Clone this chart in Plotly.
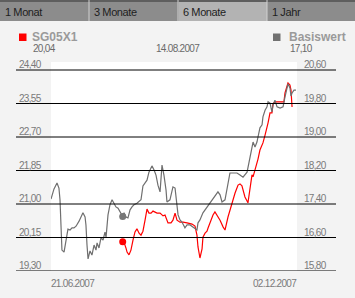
import plotly.graph_objects as go

# ---------------- data ----------------
# x = days since 21.06.2007
basis_day = [0, 2.0, 4.0, 5.3, 6.0, 6.7, 7.3, 8.7, 10.0, 11.3, 12.7, 14.0, 15.3, 16.7, 18.7, 20.0,
             21.3, 22.7, 23.3, 24.0, 24.7, 26.0, 27.3, 28.7, 30.0, 30.7, 32.0, 33.3, 34.7, 36.0,
             36.7, 38.0, 39.3, 40.7, 42.0, 43.3, 44.7, 46.0, 47.8, 48.7, 50.0, 51.3, 52.7, 54.0,
             55.3, 57.3, 60.0, 61.3, 62.7, 64.0, 65.3, 67.3, 68.7, 70.0, 71.3, 72.7, 74.0, 75.3,
             76.7, 77.3, 79.3, 81.3, 82.7, 84.0, 84.7, 86.0, 87.3, 89.3, 90.7, 92.7, 94.7, 97.3,
             98.0, 99.3, 101.3, 104.0, 106.0, 108.0, 110.7, 111.3, 112.7, 114.0, 116.0, 117.3,
             119.3, 121.3, 124.0, 126.0, 128.0, 130.7, 131.3, 132.7, 134.0, 134.7, 136.0, 137.3,
             138.0, 139.3, 140.7, 141.3, 142.7, 144.0, 144.7, 146.0, 147.3, 148.0, 149.3, 150.7,
             152.7, 154.7, 156.0, 157.3, 158.0, 159.3, 160.0, 160.7, 162.0, 163.3]
basis_val = [17.52, 17.76, 17.90, 17.78, 17.50, 16.78, 16.30, 16.25, 16.59, 16.80, 16.78, 16.83,
             16.83, 16.87, 16.99, 17.11, 17.19, 17.09, 16.90, 16.42, 16.09, 16.28, 16.18, 16.42,
             16.30, 16.47, 16.35, 16.59, 16.54, 16.73, 16.61, 17.14, 17.38, 17.50, 17.40, 17.33,
             17.30, 17.21, 17.10, 17.19, 17.09, 17.07, 17.26, 17.33, 17.38, 17.42, 17.50, 17.83,
             17.90, 17.97, 18.16, 18.31, 18.21, 18.09, 17.85, 17.69, 18.33, 18.09, 17.73, 17.45,
             17.50, 17.81, 17.78, 17.30, 17.14, 17.02, 16.97, 16.83, 16.90, 16.90, 16.85, 16.78,
             16.95, 17.02, 17.19, 17.33, 17.42, 17.54, 17.66, 17.69, 17.62, 17.45, 17.50, 17.73,
             18.14, 18.14, 18.14, 18.09, 18.04, 18.16, 18.26, 18.50, 18.69, 18.88, 18.76, 18.88,
             19.00, 19.22, 19.29, 19.48, 19.64, 19.72, 19.84, 19.81, 19.60, 19.76, 19.88, 19.72,
             19.69, 19.72, 19.96, 20.17, 20.27, 20.17, 19.98, 20.05, 20.12, 20.12]

sg_day = [47.8, 49.3, 50.0, 50.7, 52.0, 53.3, 54.7, 56.0, 57.3, 58.7, 60.0, 61.3, 62.7, 64.0,
          65.3, 66.7, 68.0, 69.3, 70.7, 72.7, 74.7, 76.0, 78.0, 80.0, 81.3, 82.7, 84.0, 86.0,
          88.0, 90.7, 94.0, 96.0, 97.3, 98.0, 99.3, 100.7, 101.3, 102.7, 104.0, 104.7, 106.0,
          108.0, 109.3, 111.3, 112.7, 114.7, 116.0, 118.0, 120.7, 122.7, 124.7, 126.0, 127.3,
          129.3, 131.3, 132.7, 134.0, 134.7, 136.0, 138.0, 139.3, 140.7, 141.3, 142.7, 144.0,
          144.7, 146.0, 147.3, 148.0, 149.3, 151.3, 154.0, 155.3, 156.0, 157.3, 158.0, 159.3,
          160.0, 160.7]
sg_val = [20.04, 19.96, 19.88, 19.78, 19.71, 19.83, 20.09, 20.29, 20.37, 20.26, 20.21, 20.31,
          20.59, 20.87, 20.77, 20.77, 20.82, 20.80, 20.77, 20.77, 20.70, 20.72, 20.52, 20.52,
          20.59, 20.77, 20.59, 20.54, 20.54, 20.52, 20.49, 20.44, 20.21, 19.91, 19.63, 19.86,
          20.16, 20.26, 20.31, 20.39, 20.54, 20.72, 20.80, 20.67, 20.59, 20.42, 20.34, 20.67,
          21.03, 21.28, 21.48, 21.51, 21.46, 21.18, 21.03, 21.36, 21.74, 21.69, 21.86, 22.14,
          22.37, 22.50, 22.55, 22.75, 22.93, 23.06, 23.31, 23.31, 23.54, 23.59, 23.59, 23.59,
          23.59, 23.82, 23.97, 24.07, 24.02, 23.89, 23.46]

left_ticks = [19.30, 20.15, 21.00, 21.85, 22.70, 23.55, 24.40]
right_ticks = [15.80, 16.60, 17.40, 18.20, 19.00, 19.80, 20.60]
tabs = ["1 Monat", "3 Monate", "6 Monate", "1 Jahr"]
selected_tab = "6 Monate"
series_names = ["SG05X1", "Basiswert"]
header_date = "14.08.2007"
date_labels = ["21.06.2007", "02.12.2007"]

# ---------------- layout helpers ----------------
W, H = 355, 298
L, R, T, B = 51, 297, 62, 271
def px(x):
    return (x - L) / (R - L)
def py(y):
    return (B - y) / (B - T)

RED = "#ff0000"
GRAY = "#6f6f6f"
LABEL = "#7a7a7a"
FONT = "Liberation Sans, Arial, sans-serif"

def narrow(t, ls=-0.7):
    return f'<span style="letter-spacing:{ls}px">{t}</span>'

# y ranges: bottom tick at B, top tick at y=70
pxu_l = (B - 70) / (left_ticks[-1] - left_ticks[0])
pxu_r = (B - 70) / (right_ticks[-1] - right_ticks[0])
yl_range = [left_ticks[0], left_ticks[-1] + (70 - T) / pxu_l]
yr_range = [right_ticks[0], right_ticks[-1] + (70 - T) / pxu_r]

def fmt(v):
    return f"{v:.2f}".replace(".", ",")

fig = go.Figure()
fig.add_trace(go.Scatter(x=basis_day, y=basis_val, yaxis="y2", mode="lines",
                         line=dict(color=GRAY, width=1.2), hoverinfo="skip"))
fig.add_trace(go.Scatter(x=sg_day, y=sg_val, yaxis="y", mode="lines",
                         line=dict(color=RED, width=1.2), hoverinfo="skip"))
# start markers
bi = min(range(len(basis_day)), key=lambda i: abs(basis_day[i] - sg_day[0]))
fig.add_trace(go.Scatter(x=[basis_day[bi]], y=[basis_val[bi]], yaxis="y2", mode="markers",
                         marker=dict(color="#777777", size=7), hoverinfo="skip"))
fig.add_trace(go.Scatter(x=[sg_day[0]], y=[sg_val[0]], yaxis="y", mode="markers",
                         marker=dict(color=RED, size=7), hoverinfo="skip"))

shapes = []
annotations = []
# gridlines extending beyond the plot area
for v in left_ticks:
    shapes.append(dict(type="line", xref="paper", yref="y", x0=px(16), x1=px(336), y0=v, y1=v,
                       line=dict(color="#000000", width=1), layer="above"))
    annotations.append(dict(xref="paper", yref="y", x=px(44), y=v, text=narrow(fmt(v)), showarrow=False,
                            xanchor="right", yanchor="bottom", yshift=-2,
                            font=dict(family=FONT, size=10, color=LABEL)))
for v in right_ticks:
    annotations.append(dict(xref="paper", yref="y2", x=px(302), y=v, text=narrow(fmt(v)), showarrow=False,
                            xanchor="left", yanchor="bottom", yshift=-2,
                            font=dict(family=FONT, size=10, color=LABEL)))

# tab bar
shapes.append(dict(type="rect", xref="paper", yref="paper", x0=px(0), x1=px(W), y0=py(21), y1=py(0),
                   fillcolor="#8c8c8c", line=dict(width=0), layer="below"))
shapes.append(dict(type="rect", xref="paper", yref="paper", x0=px(0), x1=px(W), y0=py(2), y1=py(0),
                   fillcolor="#5e5e5e", line=dict(width=0), layer="below"))
tab_x = [0, 89, 178, 267, 355]
for i, t in enumerate(tabs):
    if t == selected_tab:
        shapes.append(dict(type="rect", xref="paper", yref="paper", x0=px(tab_x[i] + 1), x1=px(tab_x[i + 1]),
                           y0=py(21), y1=py(2), fillcolor="#b3b3b3", line=dict(width=0), layer="below"))
    if i > 0:
        shapes.append(dict(type="line", xref="paper", yref="paper", x0=px(tab_x[i]), x1=px(tab_x[i]),
                           y0=py(21), y1=py(0), line=dict(color="#d0d0d0", width=1), layer="below"))
    annotations.append(dict(xref="paper", yref="paper", x=px(tab_x[i] + 3), y=py(12), text=narrow(t, -0.4),
                            showarrow=False, xanchor="left", yanchor="middle",
                            font=dict(family=FONT, size=11, color="#1e1e1e")))

# header legend
shapes.append(dict(type="rect", xref="paper", yref="paper", x0=px(19), x1=px(26.5), y0=py(41), y1=py(33.5),
                   fillcolor=RED, line=dict(width=0)))
shapes.append(dict(type="rect", xref="paper", yref="paper", x0=px(273), x1=px(280.5), y0=py(41), y1=py(33.5),
                   fillcolor="#707070", line=dict(width=0)))
hdr = dict(showarrow=False, yanchor="middle", xref="paper", yref="paper", borderpad=0)
annotations += [
    dict(x=px(31), y=py(37), text=f"<b>{series_names[0]}</b>", xanchor="left",
         font=dict(family=FONT, size=12, color="#9a9a9a"), **hdr),
    dict(x=px(32), y=py(48.5), text=narrow(fmt(sg_val[0])), xanchor="left",
         font=dict(family=FONT, size=10, color="#6a6a6a"), **hdr),
    dict(x=px(178), y=py(48.5), text=narrow(header_date), xanchor="center",
         font=dict(family=FONT, size=10, color="#6a6a6a"), **hdr),
    dict(x=px(288), y=py(37), text=f"<b>{series_names[1]}</b>", xanchor="left",
         font=dict(family=FONT, size=12, color="#9a9a9a"), **hdr),
    dict(x=px(289), y=py(48.5), text=narrow(fmt(basis_val[bi])), xanchor="left",
         font=dict(family=FONT, size=10, color="#6a6a6a"), **hdr),
    dict(x=px(50), y=py(283), text=narrow(date_labels[0]), xanchor="left",
         font=dict(family=FONT, size=10, color=LABEL), **hdr),
    dict(x=px(298), y=py(283), text=narrow(date_labels[1]), xanchor="right",
         font=dict(family=FONT, size=10, color=LABEL), **hdr),
]

axis_off = dict(showgrid=False, zeroline=False, showticklabels=False, showline=False, ticks="")
fig.update_layout(
    width=W, height=H,
    margin=dict(l=L, r=W - R, t=T, b=H - B, pad=0),
    paper_bgcolor="#f3f3f3", plot_bgcolor="#ffffff",
    showlegend=False,
    xaxis=dict(range=[0, 164], **axis_off),
    yaxis=dict(range=yl_range, **axis_off),
    yaxis2=dict(range=yr_range, overlaying="y", side="right", **axis_off),
    shapes=shapes, annotations=annotations,
)
fig.write_html("out.html", config={"displayModeBar": False})
